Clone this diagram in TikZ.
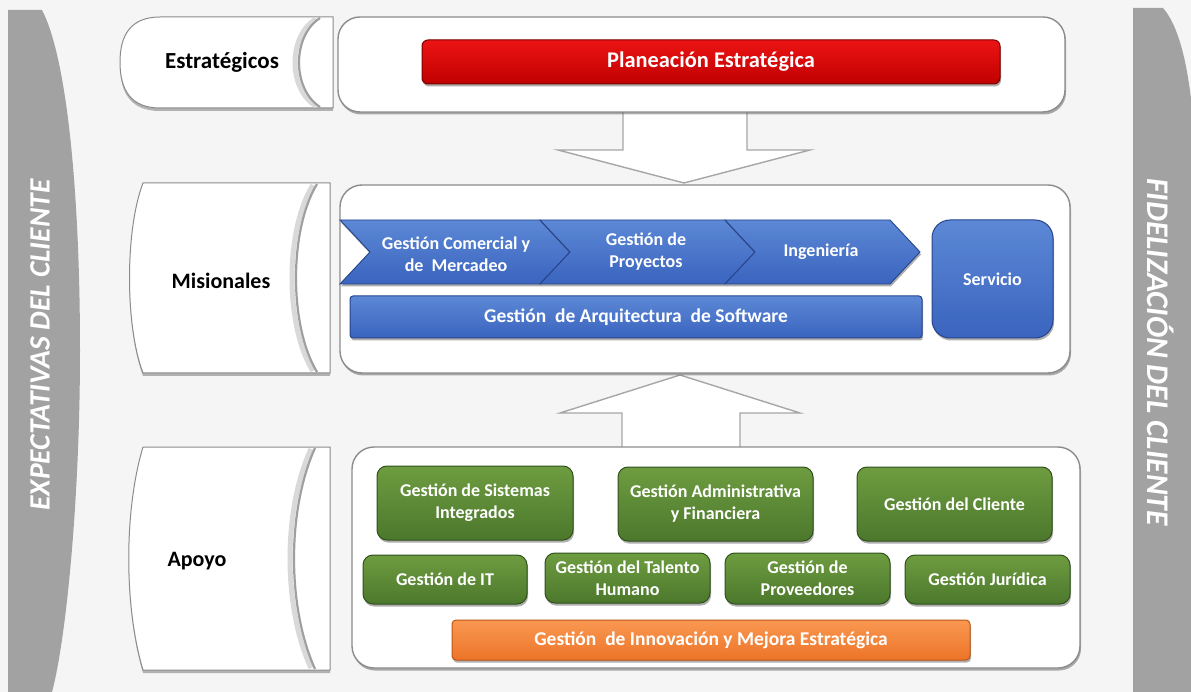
\documentclass[tikz,border=0pt]{standalone}
\usepackage{fontspec}
\setmainfont{Carlito}
\usetikzlibrary{shadows}
\definecolor{bg}{RGB}{245,245,245}
\definecolor{sidegray}{RGB}{162,162,162}
\definecolor{redL}{RGB}{236,20,20}
\definecolor{redM}{RGB}{192,0,0}
\definecolor{redD}{RGB}{120,0,0}
\definecolor{blueL}{RGB}{92,136,214}
\definecolor{blueM}{RGB}{58,100,190}
\definecolor{blueD}{RGB}{38,68,140}
\definecolor{greenL}{RGB}{110,156,64}
\definecolor{greenM}{RGB}{76,120,44}
\definecolor{greenD}{RGB}{50,80,30}
\definecolor{orangeL}{RGB}{250,152,82}
\definecolor{orangeM}{RGB}{236,116,40}
\definecolor{orangeD}{RGB}{190,85,20}
\definecolor{bordergray}{RGB}{140,140,140}
\begin{document}
\begin{tikzpicture}[x=1pt,y=-1pt,
  sidetext/.style={text=white, font=\bfseries\itshape\fontsize{29.5}{31}\selectfont},
  rowtxt/.style={text=black, font=\bfseries\fontsize{22}{26}\selectfont},
  boxtxt/.style={text=white, font=\bfseries\fontsize{18}{22}\selectfont, align=center},
  bigtxt/.style={text=white, font=\bfseries\fontsize{19.5}{23}\selectfont},
  softshadow/.style={drop shadow={shadow xshift=1pt, shadow yshift=-2.5pt, opacity=0.45, fill=black!70}},
  labelbox/.style={fill=white, draw=bordergray, line width=1pt, drop shadow={shadow xshift=0pt, shadow yshift=-3pt, opacity=0.4, fill=black!70}},
  crescent/.style={draw=gray!75, line width=2.2pt},
  crescentsh/.style={draw=gray!30, line width=5pt},
  contentbox/.style={fill=white, draw=bordergray, line width=1.4pt, rounded corners=22pt, softshadow},
  arrowfill/.style={fill=white},
  arrowedge/.style={draw=gray!70, line width=1.4pt, line join=miter},
  redbar/.style={rounded corners=6pt, draw=redD, line width=1pt, top color=redL, bottom color=redM, softshadow, bigtxt, font=\bfseries\fontsize{22.4}{25}\selectfont},
  bluebar/.style={rounded corners=3pt, draw=blueD, line width=1pt, top color=blueL, bottom color=blueM, softshadow, bigtxt},
  chevron/.style={draw=blueD, line width=0.9pt, top color=blueL, bottom color=blueM, softshadow},
  bluebox/.style={rounded corners=18pt, draw=blueD, line width=1pt, top color=blueL, bottom color=blueM, softshadow, boxtxt},
  greenbox/.style={rounded corners=10pt, draw=greenD, line width=1pt, top color=greenL, bottom color=greenM, softshadow, boxtxt},
  orangebar/.style={rounded corners=4pt, draw=orangeD, line width=1pt, top color=orangeL, bottom color=orangeM, softshadow, bigtxt}
]
\useasboundingbox (0,0) rectangle (1191,692);
\fill[bg] (0,0) rectangle (1191,692);

% side bars
\begin{scope}
\clip (0,0) rectangle (1191,692);
\fill[sidegray] (8,10) -- (42,10) .. controls (68,60) and (80,200) .. (80,350) .. controls (80,500) and (66,640) .. (52,692) -- (8,692) -- cycle;
\fill[sidegray] (1133,8) -- (1163,8) .. controls (1182,30) and (1192,80) .. (1196,160) -- (1196,692) -- (1133,692) -- cycle;
\end{scope}
\node[sidetext, rotate=90] (expect) at (40,345) {EXPECTATIVAS DEL CLIENTE};
\node[sidetext, rotate=-90, font=\bfseries\itshape\fontsize{31.5}{33}\selectfont] (fidel) at (1161,352) {FIDELIZACIÓN DEL CLIENTE};

% row labels
\path[labelbox] (333,17) -- (160,17) .. controls (130,17) and (120,36) .. (120,62) .. controls (120,89) and (130,108) .. (160,108) -- (333,108) -- cycle;
\draw[crescentsh] (316,19) .. controls (288,36) and (288,89) .. (316,106);
\draw[crescent] (320,18) .. controls (292,36) and (292,89) .. (320,107);
\node[rowtxt, font=\bfseries\fontsize{23}{26}\selectfont] (lstr) at (222,62) {Estratégicos};

\path[labelbox] (330,183) -- (143,183) .. controls (125,230) and (125,326) .. (143,373) -- (330,373) -- cycle;
\draw[crescentsh] (313,185) .. controls (285,230) and (285,326) .. (313,371);
\draw[crescent] (317,184) .. controls (289,230) and (289,326) .. (317,372);
\node[rowtxt] (lmis) at (221,281) {Misionales};

\path[labelbox] (330,447) -- (143,447) .. controls (124,510) and (124,607) .. (143,670) -- (330,670) -- cycle;
\draw[crescentsh] (311,449) .. controls (283,510) and (283,607) .. (311,668);
\draw[crescent] (315,448) .. controls (287,510) and (287,607) .. (315,669);
\node[rowtxt] (lapo) at (197,561) {Apoyo};

% big arrows
\fill[arrowfill] (623,110) -- (623,150) -- (558,150) -- (684,183) -- (810,150) -- (747,150) -- (747,110) -- cycle;
\draw[arrowedge] (623,110) -- (623,150) -- (558,150) -- (684,183) -- (810,150) -- (747,150) -- (747,110);
\fill[arrowfill] (622,450) -- (622,413) -- (560,413) -- (680,375) -- (800,413) -- (740,413) -- (740,450) -- cycle;
\draw[arrowedge] (622,450) -- (622,413) -- (560,413) -- (680,375) -- (800,413) -- (740,413) -- (740,450);

% content boxes
\node[contentbox, minimum width=727pt, minimum height=95pt] (strbox) at (701.5,64.5) {};
\node[contentbox, minimum width=730pt, minimum height=188pt] (misbox) at (705,279) {};
\node[contentbox, minimum width=728pt, minimum height=221pt] (apobox) at (716,557.5) {};

% strategic
\node[redbar, minimum width=578pt, minimum height=44pt] (plan) at (711,62) {Planeación Estratégica};

% misionales
\path[chevron] (340,220) -- (540,220) -- (570,252) -- (540,284) -- (340,284) -- (370,252) -- cycle;
\path[chevron] (540,220) -- (725,220) -- (755,252) -- (725,284) -- (540,284) -- (570,252) -- cycle;
\path[chevron] (725,220) -- (890,220) -- (920,252) -- (890,284) -- (725,284) -- (755,252) -- cycle;
\node[boxtxt] (comercial) at (456,254) {Gestión Comercial y\\de~ Mercadeo};
\node[boxtxt] (proyectos) at (646,252) {Gestión de\\Proyectos};
\node[boxtxt] (ingenieria) at (821,252) {Ingeniería};
\node[bluebar, minimum width=572pt, minimum height=42pt] (arq) at (636,317) {Gestión~ de Arquitectura~ de Software};
\node[bluebox, minimum width=121pt, minimum height=118pt] (servicio) at (992.5,279) {Servicio};

% apoyo
\node[greenbox, minimum width=196pt, minimum height=74pt] (gsi) at (475,503) {Gestión de Sistemas\\Integrados};
\node[greenbox, minimum width=195pt, minimum height=74pt] (gaf) at (715.5,504) {Gestión Administrativa\\y Financiera};
\node[greenbox, minimum width=195pt, minimum height=74pt] (gcl) at (954.5,504) {Gestión del Cliente};
\node[greenbox, minimum width=164pt, minimum height=49pt] (git) at (445,579.5) {Gestión de IT};
\node[greenbox, minimum width=165pt, minimum height=50pt] (gth) at (627.5,578) {Gestión del Talento\\Humano};
\node[greenbox, minimum width=165pt, minimum height=51pt] (gpr) at (807.5,578.5) {Gestión de\\Proveedores};
\node[greenbox, minimum width=165pt, minimum height=49pt] (gju) at (987.5,579.5) {Gestión Jurídica};
\node[orangebar, minimum width=518pt, minimum height=40pt] (innov) at (711,640) {Gestión~ de Innovación y Mejora Estratégica};
\end{tikzpicture}
\end{document}
